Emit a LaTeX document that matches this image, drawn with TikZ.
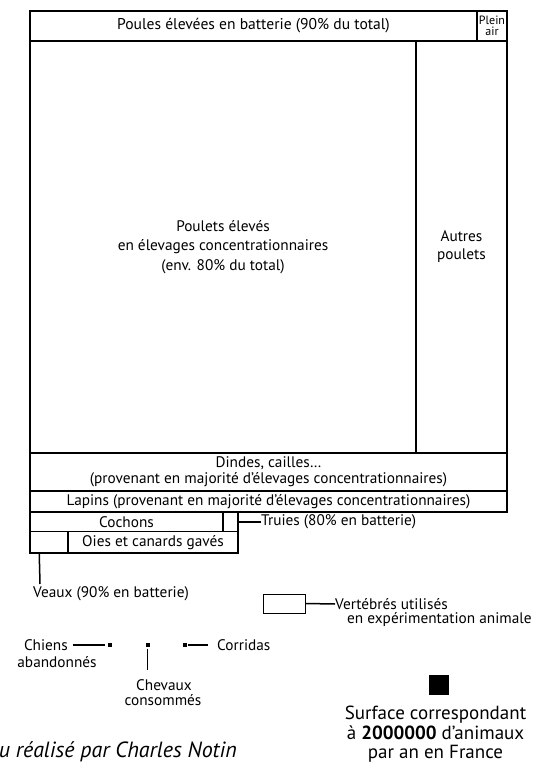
\documentclass[tikz,border=0pt]{standalone}
\usepackage{fontspec}
\setmainfont{PT Sans}
\usetikzlibrary{calc}
\begin{document}
\begin{tikzpicture}[x=1pt,y=-1pt,
  txt/.style={font=\fontsize{15.3}{15.5}\selectfont},
  cell/.style={draw,line width=1.5pt,inner sep=0pt,align=center,txt},
  lbl/.style={inner sep=0pt,txt},
  conn/.style={line width=1.5pt},
  dot/.style={fill=black,inner sep=0pt,minimum size=4pt}]
\useasboundingbox (0,0) rectangle (547,767);
% boxes
\node[cell,minimum width=447pt,minimum height=30pt,font=\fontsize{15.6}{16}\selectfont] (poules) at (253.5,26) {Poules élevées en batterie (90\% du total)};
\node[cell,minimum width=30pt,minimum height=30pt,font=\fontsize{12}{11}\selectfont] (plein) at (492,26) {Plein\\air};
\node[cell,minimum width=386pt,minimum height=412pt,font=\fontsize{15.3}{19.5}\selectfont] (poulets) at (223,247) {Poulets élevés\\en élevages concentrationnaires\\(env. 80\% du total)};
\node[cell,minimum width=91pt,minimum height=412pt,font=\fontsize{15.3}{18}\selectfont] (autres) at (461.5,247) {Autres\\poulets};
\node[cell,minimum width=477pt,minimum height=38pt] (dindes) at (268.5,472) {Dindes, cailles\ldots\\(provenant en majorité d’élevages concentrationnaires)};
\node[cell,minimum width=477pt,minimum height=21pt] (lapins) at (268.5,501.5) {Lapins (provenant en majorité d’élevages concentrationnaires)};
\node[cell,minimum width=193pt,minimum height=19.5pt] (cochons) at (126.5,521.75) {Cochons};
\node[cell,minimum width=15pt,minimum height=19.5pt] (truies) at (230.5,521.75) {};
\node[cell,minimum width=38pt,minimum height=21.5pt] (veaux) at (49,542.25) {};
\node[cell,minimum width=170pt,minimum height=21.5pt] (oies) at (153,542.25) {Oies et canards gavés};
% labels
\node[lbl,anchor=west] (truieslbl) at (261,521.75) {Truies (80\% en batterie)};
\draw[conn] (truies.east) -- (truieslbl.west);
\coordinate (veauxend) at (40,584);
\draw[conn] ($(veaux.south west)+(10,0)$) -- (veauxend);
\node[lbl,anchor=west] (veauxlbl) at (33,594) {Veaux (90\% en batterie)};
% vertebres
\node[draw,line width=1pt,minimum width=42pt,minimum height=19pt,inner sep=0pt] (vbox) at (284,603.5) {};
\node[lbl,anchor=west] (vert1) at (335,604) {Vertébrés utilisés};
\node[lbl,anchor=west] (vert2) at (347,620) {en expérimentation animale};
\draw[conn] (vbox.east) -- (vert1.west);
% small squares
\node[dot] (sqchien) at (109.5,645) {};
\node[dot] (sqcheval) at (147.5,645) {};
\node[dot] (sqcorr) at (185,645) {};
\node[lbl,anchor=east,inner xsep=5pt] (chiens) at (73,645) {Chiens};
\node[lbl] (aband) at (57,662) {abandonnés};
\draw[conn] (chiens.east) -- ($(sqchien.west)+(-2,0)$);
\coordinate (chevend) at (147.5,670);
\draw[conn] ($(sqcheval.south)+(0,2)$) -- (chevend);
\node[lbl] (cheval) at (164,685) {Chevaux};
\node[lbl] (consom) at (163,700) {consommés};
\node[lbl,anchor=west,inner xsep=9pt] (corridas) at (208,645) {Corridas};
\draw[conn] ($(sqcorr.east)+(1,0)$) -- (corridas.west);
% legend
\node[fill=black,minimum size=20pt,inner sep=0pt] (unit) at (438.5,685) {};
\node[inner sep=0pt,align=center,font=\fontsize{19}{19.5}\selectfont] (unitlbl) at (435.5,734.5) {Surface correspondant\\à \textbf{2000000} d’animaux\\par an en France};
\node[inner sep=0pt,anchor=east,font=\itshape\fontsize{22}{23}\selectfont] (credit) at (237,752) {u réalisé par Charles Notin};
\end{tikzpicture}
\end{document}
